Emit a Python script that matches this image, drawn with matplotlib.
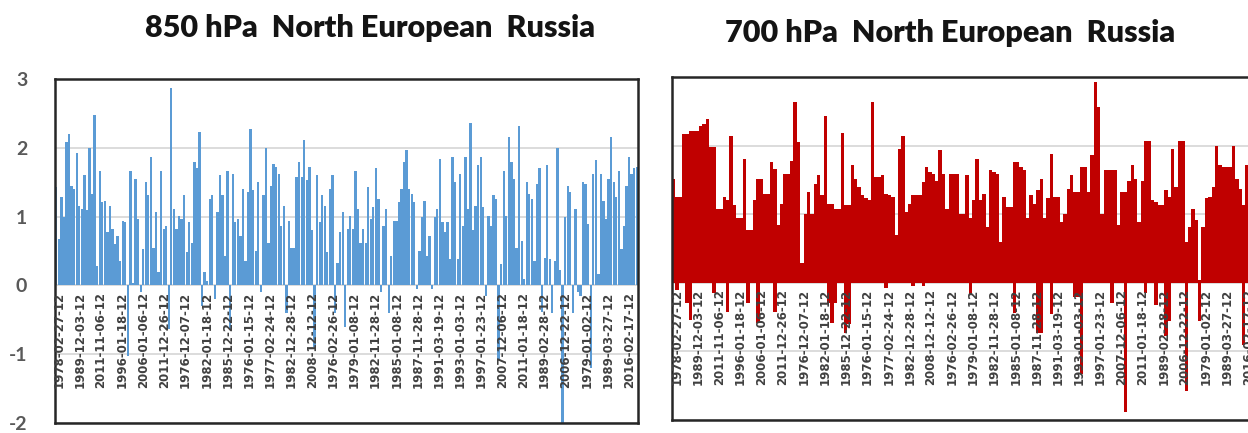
import numpy as np
import matplotlib
matplotlib.use("Agg")
import matplotlib.pyplot as plt

plt.rcParams["axes.unicode_minus"] = False

# 850 hPa series, one value per category
vals_850 = [
    1.43, 0.67, 1.28, 0.99, 2.09, 2.2, 1.45, 1.4, 1.92, 1.16, 1.11, 1.6, 1.09, 1.99, 1.33, 2.48,
    0.28, 1.67, 1.21, 1.23, 0.77, 1.16, 0.82, 0.6, 0.72, 0.36, 0.94, 0.92, -1.02, 1.67, 0.04, 1.55,
    0.96, -0.1, 0.53, 1.5, 1.31, 1.87, 0.55, 1.06, 0.19, 1.67, 0.82, 0.87, -0.64, 2.87, 1.11, 0.82,
    1.01, 0.97, 1.31, 0.48, 0.92, 0.62, 1.8, 1.7, 2.23, -0.3, 0.19, 0.06, 1.26, 1.31, -0.2, 1.06,
    1.6, 1.31, 0.43, 1.67, -0.64, 1.62, 0.92, 0.97, 0.72, 1.4, 0.36, 1.36, 2.28,
    1.38, 0.5, 1.5, -0.1, 1.31, 1.99, 0.62, 1.45, 1.77, 1.72, 1.62, 0.87, 1.16, -0.4, 0.94, 0.55,
    0.55, 1.58, 1.8, 1.58, 2.11, 1.53, 1.72, 0.8, -0.89, 1.6, 0.92, 1.31, 1.16, 0.48, 1.4, 1.6,
    -0.4, 0.33, 0.77, 1.06, -0.6, 0.82, 1.01, 0.82, 1.67, 1.11, 0.62, 0.82, 0.62, 1.43, 0.97, 1.14,
    1.7, 1.26, -0.1, 0.87, 1.11, -0.4, 0.43, 0.94, 0.94, 1.21, 1.4, 1.8, 1.97, 1.4, 1.33, 1.21,
    -0.05, 0.5, 0.99, 1.23, 0.43, 0.72, -0.05, 0.99, 1.11, 1.84, 0.92,
    0.77, 0.92, 0.38, 1.87, 1.5, 0.38, 1.62, 0.87, 1.87, 1.11, 2.36, 0.8, 1.16, 1.75, 1.87, 1.14,
    -0.15, 1.01, 0.87, 1.31, 1.26, -1.08, 0.31, 1.67, 1.01, 2.16, 1.8, 1.55, 0.55, 2.31, 0.65, 0.09,
    1.5, 1.33, 1.26, 0.36, 1.48, 1.7, -0.38, 0.4, 1.75, 0.38, -0.4, 0.36, 1.99, 0.23, -2.0, 0.99,
    1.45, 1.36, -0.4, 1.11, -0.1, -0.15, 1.5, 1.48, 0.89, -1.2, 1.62, 1.82, 0.16, 1.62, 1.23, 0.97,
    1.55, 2.16, 1.5, 1.28, 1.67, 0.53, 0.87, 1.45, 1.87, 1.62, 1.7, 1.72,
]

# 700 hPa series: positive part and the negative part drawn on the same category
pos_700 = [
    1.52, 1.25, 1.25, 2.17, 2.17, 2.22, 2.22, 2.22, 2.29, 2.31, 2.39, 1.98, 1.98, 1.08, 1.08, 1.25,
    1.2, 2.14, 1.13, 0.94, 0.94, 1.81, 0.77, 0.77, 1.2, 1.52, 1.52, 1.3, 1.3, 1.76, 1.66, 0.84,
    1.15, 1.59, 1.59, 1.78, 2.63, 2.05, 0.29, 1.01, 1.32, 1.01, 1.44, 1.57, 1.28, 2.43, 1.15, 1.15,
    1.08, 1.08, 2.19, 1.13, 1.13, 1.71, 1.52, 1.4, 1.28, 1.23, 1.2, 2.63, 1.54, 1.54, 1.57, 1.3,
    1.28, 1.25, 0.7, 1.95, 2.14, 1.03, 1.15, 1.28, 1.28, 1.28, 1.47, 1.69, 1.61, 1.59, 1.49, 1.93,
    1.59, 1.08, 1.59, 1.59, 1.59, 1.01,
    1.01, 1.57, 0.94, 1.2, 1.81, 1.2, 1.3, 0.82, 1.64, 1.61, 1.59, 0.6, 1.25, 1.11, 1.11, 1.76,
    1.76, 1.69, 1.64, 0.94, 1.28, 1.15, 1.35, 1.52, 0.94, 1.23, 1.88, 1.25, 1.25, 0.89, 1.01, 1.37,
    1.57, 1.32, 1.32, 1.69, 1.69, 1.32, 1.86, 2.92, 2.56, 1.01, 1.64, 1.64, 1.64, 1.64, 0.84, 1.32,
    1.32, 1.49, 1.71, 1.52, 0.89, 1.49, 2.07, 2.07, 1.2, 1.18, 1.13, 1.13, 1.35, 1.25, 1.95, 1.4,
    2.07, 2.07, 0.6, 0.82, 1.08, 0.91, 0.04, 0.82, 1.23, 1.25, 1.4, 2.0, 1.71, 1.69, 1.69, 1.69,
    2.0, 1.52, 1.37, 1.13, 1.71, 2.14,
]
neg_700_idx = [1, 4, 5, 12, 16, 22, 25, 30, 46, 47, 48, 51, 52, 63, 71, 74,
               88, 101, 108, 109, 112, 119, 120, 121, 130, 134, 140, 143, 146, 147, 152, 156, 169]
neg_700_val = [-0.1, -0.3, -0.54, -0.15, -0.42, -0.3, -0.58, -0.42, -0.3, -0.58, -0.3, -0.73, -0.6,
               -0.08, -0.04, -0.04,
               -0.18, -0.44, -0.73, -0.73, -0.46, -0.2, -0.2, -1.33, -0.3, -1.89, -0.15, -0.32,
               -0.78, -0.55, -1.57, -0.56, -0.9]

date_labels = [
    "1978-02-27-12", "1989-12-03-12", "2011-11-06-12", "1996-01-18-12", "2006-01-06-12",
    "2011-12-26-12", "1976-12-07-12", "1982-01-18-12", "1985-12-22-12", "1976-01-15-12",
    "1977-02-24-12", "1982-12-28-12", "2008-12-12-12", "1976-02-26-12", "1979-01-08-12",
    "1982-11-28-12", "1985-01-08-12", "1987-11-28-12", "1991-03-19-12", "1993-01-03-12",
    "1997-01-23-12", "2007-12-06-12", "2011-01-18-12", "1989-02-28-12", "2006-12-22-12",
    "1979-01-02-12", "1989-03-27-12", "2016-02-17-12",
]
y_ticks = [-2, -1, 0, 1, 2, 3]

BLUE = "#5B9BD5"
RED = "#C00000"
GRID = "#D9D9D9"
TXT = "#404040"


def style_panel(ax, n, show_y):
    ax.set_ylim(-2, 3)
    ax.set_xlim(-0.5, n - 0.5)
    ax.set_yticks(y_ticks)
    ax.yaxis.grid(True, color=GRID, lw=1.3, zorder=0)
    ax.set_axisbelow(True)
    ax.set_xticks([])
    ax.tick_params(axis="y", length=0, pad=20, labelsize=14, labelcolor="#595959")
    for lab in ax.get_yticklabels():
        lab.set_fontweight("bold")
        lab.set_family("Lato")
    if not show_y:
        ax.set_yticklabels([])
    for sp in ax.spines.values():
        sp.set_color("#262626")
        sp.set_linewidth(1.8)


def add_date_labels(ax, n, per_label):
    for k, lab in enumerate(date_labels):
        pos = 1 + k * per_label
        if pos > n - 1:
            break
        ax.text(pos, -0.09, lab, rotation=90, ha="center", va="top",
                fontsize=8.5, color=TXT, fontweight="bold", zorder=5, clip_on=False)


fig = plt.figure(figsize=(12.48, 4.33), dpi=100)

# left: 850 hPa
ax1 = fig.add_axes([55 / 1248, 1 - 423 / 433, 583 / 1248, 344 / 433])
x1 = np.arange(len(vals_850))
ax1.bar(x1, vals_850, width=0.9, color=BLUE, linewidth=0, zorder=2)
style_panel(ax1, len(vals_850), True)
add_date_labels(ax1, len(vals_850), len(vals_850) / 27.6)

# right: 700 hPa (cut at the picture edge)
ax2 = fig.add_axes([672 / 1248, 1 - 420 / 433, 580 / 1248, 343 / 433])
x2 = np.arange(len(pos_700))
ax2.bar(x2, pos_700, width=1.0, color=RED, linewidth=0, zorder=2)
ax2.bar(neg_700_idx, neg_700_val, width=1.0, color=RED, linewidth=0, zorder=2)
style_panel(ax2, len(pos_700), False)
ax2.spines["right"].set_visible(False)
add_date_labels(ax2, len(pos_700), len(pos_700) / 27.4)

fig.text(370 / 1248, 1 - 28 / 433, "850 hPa  North European  Russia", ha="center", va="center",
         fontsize=22, fontweight="heavy", family="Lato", color="#141414")
fig.text(950 / 1248, 1 - 33 / 433, "700 hPa  North European  Russia", ha="center", va="center",
         fontsize=22, fontweight="heavy", family="Lato", color="#141414")

fig.savefig("out.png", dpi=100)
